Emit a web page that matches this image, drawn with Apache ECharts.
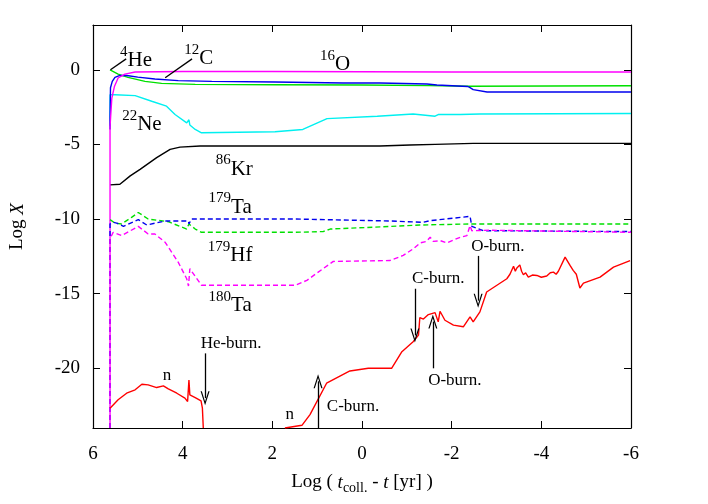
<!DOCTYPE html>
<html>
<head>
<meta charset="utf-8">
<script src="https://cdn.jsdelivr.net/npm/echarts@6/dist/echarts.min.js"></script>
<style>
html, body { margin: 0; padding: 0; background: #fff; }
#main { width: 708px; height: 504px; }
</style>
</head>
<body>
<div id="main"></div>
<script>
// x: Log(t_coll - t [yr]), y: Log X
var he4 = [[5.62,0],[5.44,-0.29],[5.22,-0.51],[4.84,-0.78],[4.47,-0.91],[3.72,-0.98],[1.94,-1.0],[0,-1.02],[-1.5,-1.06],[-2.4,-1.1],[-6,-1.07]]
var c12 = [[5.62,-4.0],[5.62,-3.4],[5.61,-1.2],[5.57,-0.78],[5.51,-0.51],[5.40,-0.38],[5.25,-0.38],[5.0,-0.49],[4.62,-0.62],[4.10,-0.73],[3.35,-0.78],[1.94,-0.82],[0.42,-0.89],[-0.4,-0.89],[-1.45,-0.95],[-1.67,-1.02],[-2.36,-1.12],[-2.41,-1.2],[-2.48,-1.33],[-2.79,-1.49],[-6,-1.49]]
var o16 = [[5.62,-24],[5.62,-3.8],[5.58,-1.9],[5.52,-1.1],[5.44,-0.55],[5.29,-0.29],[5.06,-0.15],[4,-0.12],[2,-0.12],[0,-0.13],[-2,-0.15],[-6,-0.15]]
var ne22 = [[5.62,-3.78],[5.62,-1.67],[5.51,-1.67],[5.06,-1.73],[4.69,-2.11],[4.36,-2.44],[4.17,-3.0],[3.91,-3.56],[3.87,-3.6],[3.86,-3.35],[3.84,-3.7],[3.72,-4.0],[3.58,-4.22],[1.94,-4.15],[1.32,-4.0],[0.78,-3.27],[-0.34,-3.11],[-1.14,-2.96],[-1.63,-3.11],[-1.66,-3.2],[-1.70,-3.0],[-2.19,-3.0],[-2.63,-2.96],[-6,-2.93]]
var kr86 = [[5.62,-7.71],[5.40,-7.67],[5.17,-7.11],[4.95,-6.67],[4.58,-5.89],[4.28,-5.33],[4.06,-5.18],[3.61,-5.11],[-0.4,-5.11],[-1.07,-5.04],[-1.63,-5.0],[-2.48,-4.93],[-6,-4.93]]
var ta179 = [[5.62,-24],[5.62,-10.33],[5.55,-10.22],[5.47,-10.27],[5.32,-10.49],[4.99,-10.04],[4.80,-10.4],[4.39,-10.13],[3.87,-10.13],[3.86,-10.33],[3.80,-10.0],[1.49,-10.0],[-0.62,-10.13],[-1.36,-10.22],[-1.52,-10.11],[-2.41,-9.82],[-2.45,-10.49],[-2.71,-10.78],[-6,-10.84]]
var hf179 = [[5.62,-10.04],[5.51,-10.27],[5.36,-10.33],[5.14,-9.89],[4.99,-9.56],[4.77,-10.0],[4.32,-10.18],[3.91,-10.67],[3.86,-10.33],[3.72,-10.67],[3.58,-10.89],[1.49,-10.89],[0.87,-10.84],[0.71,-10.67],[-0.62,-10.5],[-1.29,-10.4],[-2.41,-10.33],[-6,-10.33]]
var ta180 = [[5.62,-24],[5.62,-11.33],[5.55,-10.89],[5.36,-11.11],[4.99,-10.49],[4.77,-11.0],[4.62,-11.0],[4.39,-11.56],[4.10,-12.89],[3.91,-14.0],[3.87,-14.49],[3.84,-13.33],[3.80,-13.44],[3.58,-14.44],[1.49,-14.44],[1.23,-14.11],[0.87,-13.33],[0.64,-12.84],[-0.62,-12.78],[-0.92,-12.44],[-1.14,-12.0],[-1.30,-11.6],[-1.44,-11.5],[-1.52,-11.22],[-1.59,-11.5],[-1.75,-11.45],[-1.89,-11.6],[-2.19,-11.22],[-2.34,-11.11],[-2.41,-10.44],[-2.45,-10.78],[-2.86,-10.75],[-6,-10.89]]
var nLow = [[5.62,-22.67],[5.44,-22.11],[5.25,-21.67],[5.06,-21.44],[4.91,-21.07],[4.77,-21.11],[4.58,-21.29],[4.43,-21.18],[4.32,-21.38],[4.13,-21.67],[3.95,-22.0],[3.91,-21.9],[3.89,-22.22],[3.86,-20.78],[3.84,-21.78],[3.72,-21.96],[3.59,-22.18],[3.56,-22.67],[3.54,-24]]
var nHigh = [[1.72,-24],[1.34,-23.82],[1.16,-23.1],[0.79,-21.0],[0.27,-20.18],[-0.14,-20.0],[-0.66,-20.0],[-0.89,-18.89],[-1.14,-18.22],[-1.26,-17.78],[-1.29,-16.6],[-1.37,-16.7],[-1.48,-16.4],[-1.63,-16.27],[-1.70,-16.89],[-1.74,-16.18],[-1.85,-16.78],[-2.04,-17.11],[-2.26,-17.22],[-2.41,-16.55],[-2.48,-16.89],[-2.63,-16.22],[-2.78,-14.89],[-2.89,-14.67],[-3.23,-14.0],[-3.30,-13.7],[-3.38,-13.16],[-3.42,-13.5],[-3.45,-13.3],[-3.52,-13.07],[-3.56,-13.5],[-3.60,-13.73],[-3.65,-13.6],[-3.71,-13.89],[-3.80,-13.75],[-3.90,-13.78],[-4.0,-13.9],[-4.12,-13.82],[-4.20,-13.6],[-4.27,-13.56],[-4.33,-13.7],[-4.38,-13.5],[-4.53,-12.55],[-4.64,-13.11],[-4.71,-13.44],[-4.78,-13.7],[-4.86,-14.62],[-4.94,-14.29],[-5.31,-13.89],[-5.61,-13.22],[-5.98,-12.78]]

var yTicks = [-20, -15, -10, -5, 0]

// isotope names: [mass number, symbol, x, y]
var isoLabels = [['4','He',5.04,0.8],['12','C',3.64,0.93],['16','O',0.6,0.53],['22','Ne',4.91,-3.47],['86','Kr',2.85,-6.47],['179','Ta',2.94,-9.0],['179','Hf',2.94,-12.27],['180','Ta',2.94,-15.6]]
// plain notes: [text, x, y]
var notes = [['n',4.35,-20.47],['n',1.61,-23.13],['He-burn.',2.92,-18.33],['C-burn.',0.2,-22.53],['C-burn.',-1.7,-14.0],['O-burn.',-2.07,-20.8],['O-burn.',-3.03,-11.87]]
// arrows: [x, yFrom, yTo] (head at yTo)
var arrows = [[3.5,-19.0,-22.0],[0.98,-24,-20.87],[-1.18,-14.67,-17.8],[-1.58,-20.0,-16.87],[-2.59,-12.47,-15.47]]
// leader lines from names to curves: [x1, y1, x2, y2]
var leaders = [[5.26,0.73,5.61,0],[3.79,0.73,4.39,-0.53]]

var serif = 'Liberation Serif'
var myChart = echarts.init(document.getElementById('main'))

function curve(name, data, color, dashed) {
    return {
        name: name,
        type: 'line',
        data: data,
        showSymbol: false,
        symbol: 'none',
        silent: true,
        lineStyle: {
            width: 1.4,
            color: color,
            type: dashed ? [5, 3] : 'solid'
        }
    }
}

var chevron = 'path://M0,0 L5,13 L3.6,13 L0,3.5 L-3.6,13 L-5,13 Z'

var option = {
    animation: false,
    textStyle: { fontFamily: serif },
    grid: { left: 93, right: 77, top: 25, bottom: 76 },
    xAxis: [
        {
            type: 'value',
            inverse: true,
            min: -6,
            max: 6,
            interval: 2,
            position: 'bottom',
            name: '{n|Log ( }{i|t}{sub|coll.}{n| - }{i|t}{n| [yr] )}',
            nameLocation: 'middle',
            nameGap: 45,
            nameTextStyle: {
                rich: {
                    n: { fontFamily: serif, fontSize: 19, color: '#000', lineHeight: 22, verticalAlign: 'top' },
                    i: { fontFamily: serif, fontSize: 19, color: '#000', fontStyle: 'italic', lineHeight: 22, verticalAlign: 'top' },
                    sub: { fontFamily: serif, fontSize: 14, color: '#000', lineHeight: 14, verticalAlign: 'bottom' }
                }
            },
            axisLine: { onZero: false, lineStyle: { color: '#000', width: 1.2 } },
            axisTick: { inside: true, length: 7, lineStyle: { color: '#000' } },
            axisLabel: { margin: 17, fontFamily: serif, fontSize: 19, color: '#000' },
            splitLine: { show: false }
        },
        {
            type: 'value',
            inverse: true,
            min: -6,
            max: 6,
            interval: 2,
            position: 'top',
            axisLine: { onZero: false, lineStyle: { color: '#000', width: 1.2 } },
            axisTick: { inside: true, length: 7, lineStyle: { color: '#000' } },
            axisLabel: { show: false },
            splitLine: { show: false }
        }
    ],
    yAxis: [
        {
            type: 'value',
            min: -24,
            max: 3,
            position: 'left',
            name: 'Log {i|X}',
            nameLocation: 'middle',
            nameRotate: 90,
            nameGap: 66,
            nameTextStyle: {
                fontFamily: serif,
                fontSize: 19,
                color: '#000',
                rich: { i: { fontFamily: serif, fontSize: 19, color: '#000', fontStyle: 'italic' } }
            },
            axisLine: { onZero: false, lineStyle: { color: '#000', width: 1.2 } },
            axisTick: { inside: true, length: 7, customValues: yTicks, lineStyle: { color: '#000' } },
            axisLabel: { margin: 13, customValues: yTicks, fontFamily: serif, fontSize: 19, color: '#000' },
            splitLine: { show: false }
        },
        {
            type: 'value',
            min: -24,
            max: 3,
            position: 'right',
            axisLine: { onZero: false, lineStyle: { color: '#000', width: 1.2 } },
            axisTick: { inside: true, length: 7, customValues: yTicks, lineStyle: { color: '#000' } },
            axisLabel: { show: false },
            splitLine: { show: false }
        }
    ],
    series: [
        curve('22Ne', ne22, '#00f0f0'),
        curve('86Kr', kr86, '#000000'),
        curve('4He', he4, '#00e000'),
        curve('12C', c12, '#0000ee'),
        curve('16O', o16, '#ff00ff'),
        curve('179Hf', hf179, '#00e000', true),
        curve('179Ta', ta179, '#0000ee', true),
        curve('180Ta', ta180, '#ff00ff', true),
        curve('n', nLow, '#ff0000'),
        curve('n ', nHigh, '#ff0000'),
        {
            name: 'isotopes',
            type: 'scatter',
            symbolSize: 0,
            silent: true,
            itemStyle: { opacity: 1 },
            data: isoLabels.map(function (l) {
                return { value: [l[2], l[3]], label: { formatter: '{s|' + l[0] + '}{m|' + l[1] + '}' } }
            }),
            label: {
                show: true,
                position: [0, 0],
                align: 'center',
                verticalAlign: 'middle',
                rich: {
                    s: { fontFamily: serif, fontSize: 15, color: '#000', lineHeight: 15, verticalAlign: 'top' },
                    m: { fontFamily: serif, fontSize: 21, color: '#000', lineHeight: 27, verticalAlign: 'bottom' }
                }
            },
            markLine: {
                silent: true,
                symbol: ['none', 'none'],
                label: { show: false },
                lineStyle: { color: '#000', width: 1.3, type: 'solid' },
                data: leaders.map(function (l) {
                    return [{ coord: [l[0], l[1]] }, { coord: [l[2], l[3]] }]
                })
            }
        },
        {
            name: 'notes',
            type: 'scatter',
            symbolSize: 0,
            silent: true,
            itemStyle: { opacity: 1 },
            data: notes.map(function (l) {
                return { value: [l[1], l[2]], label: { formatter: l[0] } }
            }),
            label: {
                show: true,
                position: [0, 0],
                align: 'center',
                verticalAlign: 'middle',
                fontFamily: serif,
                fontSize: 17,
                color: '#000'
            },
            markLine: {
                silent: true,
                symbol: ['none', chevron],
                symbolSize: [9, 14],
                label: { show: false },
                lineStyle: { color: '#000', width: 1.3, type: 'solid' },
                data: arrows.map(function (a) {
                    return [{ coord: [a[0], a[1]] }, { coord: [a[0], a[2]] }]
                })
            }
        }
    ]
}

option && myChart.setOption(option, true)
</script>
</body>
</html>
